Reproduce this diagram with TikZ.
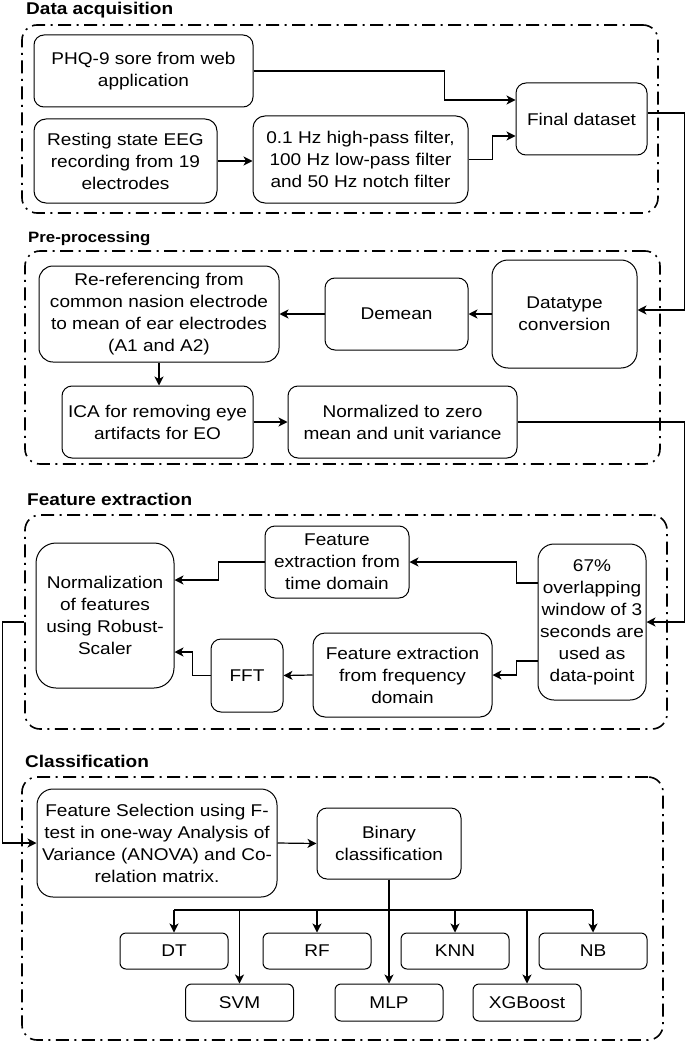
\documentclass[tikz,border=0pt]{standalone}
\usepackage{fontspec}
\setmainfont{Liberation Sans}[FakeStretch=1.12]
\usetikzlibrary{arrows.meta,calc}
\newcommand\bodyf{\fontsize{17}{22}\selectfont}
\newcommand\titlef{\fontsize{17}{20}\selectfont\bfseries}
\newcommand\titlesm{\fontsize{15}{18}\selectfont\bfseries}
\tikzset{
  box/.style={draw, line width=1pt, rounded corners=10pt, align=center, inner sep=0pt, font=\bodyf},
  sbox/.style={box, rounded corners=6pt, minimum width=108pt},
  frame/.style={draw, line width=1.6pt, dash pattern=on 13pt off 5.5pt on 2pt off 5.5pt, rounded corners=15pt, inner sep=0pt},
  arr/.style={line width=1.2pt, -{Stealth[length=9pt,width=9pt,inset=2.5pt]}},
  ln/.style={line width=1.2pt},
  ttl/.style={anchor=base west, inner sep=0pt, font=\titlef},
}
\begin{document}
\begin{tikzpicture}[x=1pt,y=-1pt]
\useasboundingbox (0,0) rectangle (685,1043);

% frames
\node[frame, minimum width=636pt, minimum height=188pt] (f1) at (340,119) {};
\node[frame, minimum width=635pt, minimum height=213pt] (f2) at (342.5,357.5) {};
\node[frame, minimum width=642pt, minimum height=214pt] (f3) at (346,622) {};
\node[frame, minimum width=641pt, minimum height=263pt] (f4) at (342.5,908.5) {};

% titles
\node[ttl] (t1) at (26,14.5) {Data acquisition};
\node[ttl, font=\titlesm] (t2) at (28,242) {Pre-processing};
\node[ttl] (t3) at (27,505) {Feature extraction};
\node[ttl] (t4) at (25,767) {Classification};

% Data acquisition
\node[box, minimum width=219pt, minimum height=72pt] (phq) at (143.5,71) {PHQ-9 sore from web\\application};
\node[box, rounded corners=12pt, minimum width=183pt, minimum height=84pt] (rest) at (125.5,161) {Resting state EEG\\recording from 19\\electrodes};
\node[box, rounded corners=12pt, minimum width=215pt, minimum height=87pt] (filt) at (360.5,159.5) {0.1 Hz high-pass filter,\\100 Hz low-pass filter\\and 50 Hz notch filter};
\node[box, minimum width=131pt, minimum height=72pt] (final) at (581.5,119) {Final dataset};

% Pre-processing
\node[box, rounded corners=14pt, minimum width=240pt, minimum height=96pt] (reref) at (159,314) {Re-referencing from\\common nasion electrode\\to mean of ear electrodes\\(A1 and A2)};
\node[box, minimum width=143pt, minimum height=72pt] (demean) at (396.5,314) {Demean};
\node[box, rounded corners=16pt, minimum width=145pt, minimum height=108pt] (dtype) at (564.5,314) {Datatype\\conversion};
\node[box, minimum width=191pt, minimum height=72pt] (ica) at (157.5,422) {ICA for removing eye\\artifacts for EO};
\node[box, minimum width=229pt, minimum height=72pt] (normz) at (402.5,422) {Normalized to zero\\mean and unit variance};

% Feature extraction
\node[box, minimum width=144pt, minimum height=72pt] (time) at (337,562) {Feature\\extraction from\\time domain};
\node[box, rounded corners=20pt, minimum width=138pt, minimum height=145pt] (norm) at (105,615.5) {Normalization\\of features\\using Robust-\\Scaler};
\node[box, rounded corners=16pt, minimum width=108pt, minimum height=156pt] (s67) at (592,622) {67\%\\overlapping\\window of 3\\seconds are\\used as\\data-point};
\node[box, minimum width=72pt, minimum height=73pt] (fft) at (247,675.5) {FFT};
\node[box, rounded corners=12pt, minimum width=179pt, minimum height=84pt] (freq) at (402.5,675) {Feature extraction\\from frequency\\domain};

% Classification
\node[box, rounded corners=16pt, minimum width=240pt, minimum height=108pt] (fs) at (157,843) {Feature Selection using F-\\test in one-way Analysis of\\Variance (ANOVA) and Co-\\relation matrix.};
\node[box, minimum width=144pt, minimum height=71pt] (bin) at (389,843.5) {Binary\\classification};
\node[sbox, minimum height=36pt] (dt) at (174,951) {DT};
\node[sbox, minimum height=36pt] (rf) at (317,951) {RF};
\node[sbox, minimum height=36pt] (knn) at (455,951) {KNN};
\node[sbox, minimum height=36pt] (nb) at (593,951) {NB};
\node[sbox, minimum height=37pt] (svm) at (239.5,1002.5) {SVM};
\node[sbox, minimum height=37pt] (mlp) at (389,1002.5) {MLP};
\node[sbox, minimum height=37pt] (xgb) at (527,1002.5) {XGBoost};
\coordinate (bus) at (0,910);

% connectors: data acquisition
\draw[arr] (phq.east) -- ++(191,0) |- ([yshift=19pt]final.west);
\draw[arr] (rest.east) -- (rest.east -| filt.west);
\draw[arr] (filt.east) -- ++(24,0) |- ([yshift=-17pt]final.west);
\draw[arr] ([yshift=6pt]final.east) -- ++(37,0) |- ([yshift=4pt]dtype.east);

% pre-processing
\draw[arr] (dtype.west) -- (demean.east);
\draw[arr] (demean.west) -- (demean.west -| reref.east);
\draw[arr] (reref.south) -- (reref.south |- ica.north);
\draw[arr] (ica.east) -- (normz.west);
\draw[arr] (normz.east) -- ++(167,0) |- (s67.east);

% feature extraction
\draw[arr] ([yshift=39pt]s67.west) -- ++(-21,0) |- (time.east);
\draw[arr] ([yshift=-39pt]s67.west) -- ++(-21,0) |- (freq.east);
\draw[arr] (time.west) -- ++(-46,0) |- ([yshift=35.5pt]norm.east);
\draw[arr] (freq.west) -- (fft.east);
\draw[arr] (fft.west) -- ++(-18,0) |- ([yshift=-36.5pt]norm.east);
\draw[arr] (f3.west) -- ++(-22,0) |- (fs.west);

% classification
\draw[arr] (fs.east) -- (bin.west);
\draw[arr] (bin.south) -- (mlp.north);
\draw[ln] (dt.north |- bus) -- (nb.north |- bus);
\foreach \n in {dt,svm,rf,knn,xgb,nb}{
  \draw[arr] (\n.north |- bus) -- (\n.north);
}
\end{tikzpicture}
\end{document}
